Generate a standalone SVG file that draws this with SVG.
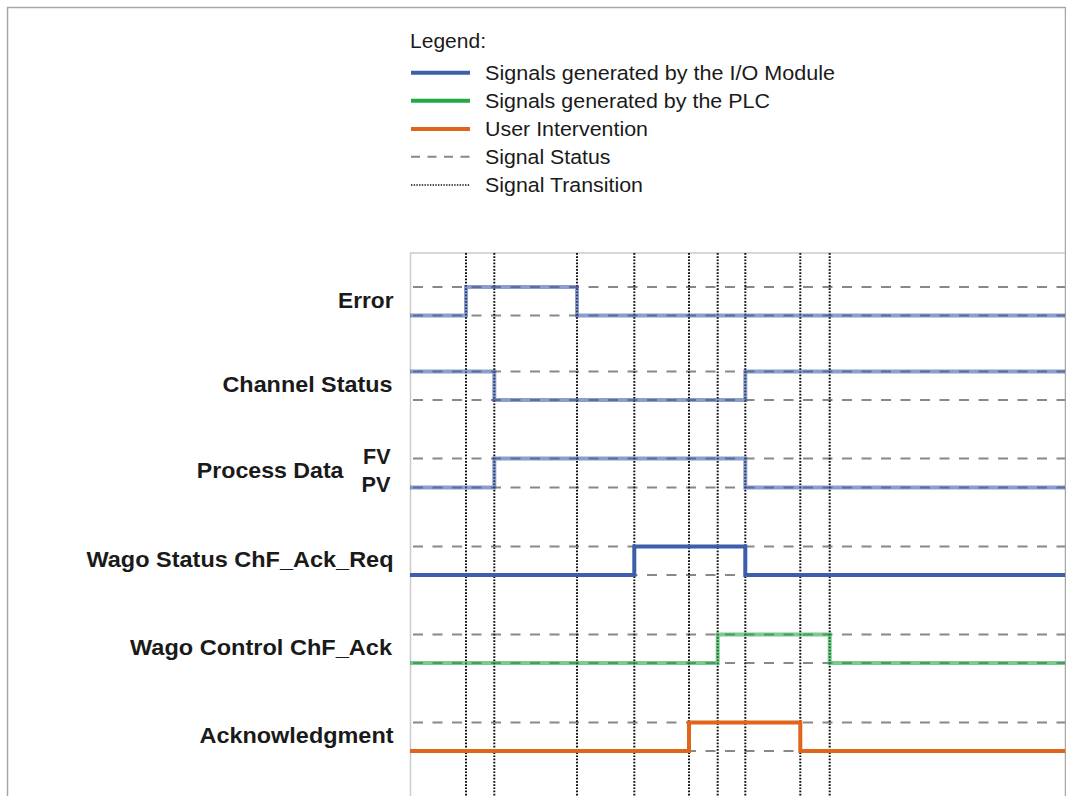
<svg xmlns="http://www.w3.org/2000/svg" width="1066" height="796" viewBox="0 0 1066 796">
  <style>
    .lbl { font-family: "Liberation Sans", Arial, sans-serif; font-weight: bold; font-size: 21.5px; fill: #1a1a1a; }
    .leg { font-family: "Liberation Sans", Arial, sans-serif; font-size: 20.5px; fill: #1a1a1a; }
    .status { stroke: #888888; stroke-width: 2; stroke-dasharray: 10 9.5; fill: none; }
    .trans { stroke: #111111; stroke-width: 2; stroke-dasharray: 1.7 1.5; fill: none; }
    .io { stroke: #3d5eaa; stroke-width: 4; fill: none; }
    .io-soft { stroke: #3d5eaa; stroke-opacity: 0.6; stroke-width: 4; fill: none; }
    .plc { stroke: #22a845; stroke-opacity: 0.6; stroke-width: 4; fill: none; }
    .user { stroke: #e0651a; stroke-width: 4; fill: none; }
  </style>

  <rect width="1066" height="796" fill="#ffffff"/>
  <!-- outer frame -->
  <rect x="7.5" y="7.5" width="1058" height="800" fill="none" stroke="#a6a6a6" stroke-width="1.5"/>

  <!-- legend -->
  <g id="legend">
    <text class="leg" x="410" y="47.5" textLength="76" lengthAdjust="spacingAndGlyphs">Legend:</text>
    <line x1="411" y1="72.7" x2="470" y2="72.7" stroke="#3d5eaa" stroke-width="4"/>
    <text class="leg" x="485" y="79.5" textLength="350" lengthAdjust="spacingAndGlyphs">Signals generated by the I/O Module</text>
    <line x1="411" y1="100.7" x2="470" y2="100.7" stroke="#22a845" stroke-width="4"/>
    <text class="leg" x="485" y="107.5" textLength="285" lengthAdjust="spacingAndGlyphs">Signals generated by the PLC</text>
    <line x1="411" y1="129" x2="470" y2="129" stroke="#e0651a" stroke-width="4"/>
    <text class="leg" x="485" y="135.5" textLength="163" lengthAdjust="spacingAndGlyphs">User Intervention</text>
    <line x1="411" y1="156.7" x2="470" y2="156.7" stroke="#888888" stroke-width="2" stroke-dasharray="9 7.5"/>
    <text class="leg" x="485" y="163.5" textLength="125.5" lengthAdjust="spacingAndGlyphs">Signal Status</text>
    <line x1="411" y1="185" x2="470" y2="185" stroke="#111111" stroke-width="1.5" stroke-dasharray="1.4 1.3"/>
    <text class="leg" x="485" y="191.5" textLength="158" lengthAdjust="spacingAndGlyphs">Signal Transition</text>
  </g>

  <!-- plot frame -->
  <path d="M410.5 796 V253 H1065" fill="none" stroke="#cccccc" stroke-width="1.5"/>

  <!-- signal status levels -->
  <g id="status-levels">
    <line class="status" x1="413" y1="287" x2="1065" y2="287"/>
    <line class="status" x1="413" y1="315.5" x2="1065" y2="315.5"/>
    <line class="status" x1="413" y1="371.5" x2="1065" y2="371.5"/>
    <line class="status" x1="413" y1="400" x2="1065" y2="400"/>
    <line class="status" x1="413" y1="458.5" x2="1065" y2="458.5"/>
    <line class="status" x1="413" y1="487.5" x2="1065" y2="487.5"/>
    <line class="status" x1="413" y1="546.5" x2="1065" y2="546.5"/>
    <line class="status" x1="413" y1="575" x2="1065" y2="575"/>
    <line class="status" x1="413" y1="634.5" x2="1065" y2="634.5"/>
    <line class="status" x1="413" y1="663" x2="1065" y2="663"/>
    <line class="status" x1="413" y1="722.5" x2="1065" y2="722.5"/>
    <line class="status" x1="413" y1="751" x2="1065" y2="751"/>
  </g>

  <!-- signal transitions -->
  <g id="connectors">
    <line class="trans" x1="466" y1="253" x2="466" y2="796"/>
    <line class="trans" x1="494.3" y1="253" x2="494.3" y2="796"/>
    <line class="trans" x1="577" y1="253" x2="577" y2="796"/>
    <line class="trans" x1="634.3" y1="253" x2="634.3" y2="796"/>
    <line class="trans" x1="689" y1="253" x2="689" y2="796"/>
    <line class="trans" x1="717.7" y1="253" x2="717.7" y2="796"/>
    <line class="trans" x1="745.3" y1="253" x2="745.3" y2="796"/>
    <line class="trans" x1="800.3" y1="253" x2="800.3" y2="796"/>
    <line class="trans" x1="829.7" y1="253" x2="829.7" y2="796"/>
  </g>

  <!-- signals -->
  <g id="error">
    <text class="lbl" x="393.5" y="307.5" text-anchor="end" textLength="55.5" lengthAdjust="spacingAndGlyphs">Error</text>
    <path class="io-soft" d="M410 315.5 H466 V287 H577 V315.5 H1065"/>
  </g>
  <g id="channel-status">
    <text class="lbl" x="392.5" y="391.7" text-anchor="end" textLength="170" lengthAdjust="spacingAndGlyphs">Channel Status</text>
    <path class="io-soft" d="M410 371.5 H494.3 V400 H745.3 V371.5 H1065"/>
  </g>
  <g id="process-data">
    <text class="lbl" x="343.5" y="478.3" text-anchor="end" textLength="146.7" lengthAdjust="spacingAndGlyphs">Process Data</text>
    <text class="lbl" x="390.5" y="464.3" text-anchor="end" textLength="27.5" lengthAdjust="spacingAndGlyphs">FV</text>
    <text class="lbl" x="390.5" y="492.3" text-anchor="end" textLength="29" lengthAdjust="spacingAndGlyphs">PV</text>
    <path class="io-soft" d="M410 487.5 H494.3 V458.5 H745.3 V487.5 H1065"/>
  </g>
  <g id="wago-status">
    <text class="lbl" x="393.5" y="566.7" text-anchor="end" textLength="307" lengthAdjust="spacingAndGlyphs">Wago Status ChF_Ack_Req</text>
    <path class="io" d="M410 575 H634.3 V546.5 H745.3 V575 H1065"/>
  </g>
  <g id="wago-control">
    <text class="lbl" x="392" y="655" text-anchor="end" textLength="262" lengthAdjust="spacingAndGlyphs">Wago Control ChF_Ack</text>
    <path class="plc" d="M410 663 H717.7 V634.5 H829.7 V663 H1065"/>
  </g>
  <g id="acknowledgment">
    <text class="lbl" x="393.5" y="742.7" text-anchor="end" textLength="194" lengthAdjust="spacingAndGlyphs">Acknowledgment</text>
    <path class="user" d="M410 751 H689 V722.5 H800.3 V751 H1065"/>
  </g>
</svg>
